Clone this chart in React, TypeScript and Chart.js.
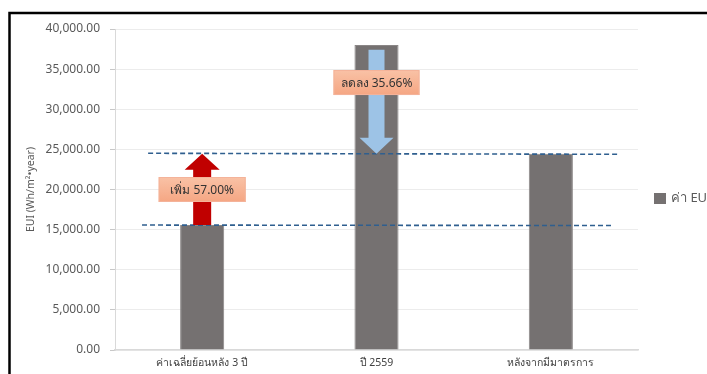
import React, { useEffect, useRef } from "react";
import { Chart, registerables } from "chart.js";

Chart.register(...registerables);

const categories = ["ค่าเฉลี่ยย้อนหลัง 3 ปี", "ปี 2559", "หลังจากมีมาตรการ"];
const euiValues = [15570, 38000, 24450];
const seriesName = "ค่า EUI";
const yTicks = [0, 5000, 10000, 15000, 20000, 25000, 30000, 35000, 40000];
const increaseLabel = "เพิ่ม 57.00%";
const decreaseLabel = "ลดลง 35.66%";
const yTitle = "EUI (Wh/m²•year)";

const FONT = "'Noto Sans', 'DejaVu Sans', sans-serif";
const BAR_COLOR = "#757171";

function drawArrow(
  ctx: CanvasRenderingContext2D,
  x: number,
  yTail: number,
  yTip: number,
  shaftW: number,
  headW: number,
  headH: number,
  color: string
) {
  const dir = yTip < yTail ? -1 : 1;
  const headBase = yTip - dir * headH;
  ctx.save();
  ctx.beginPath();
  ctx.moveTo(x - shaftW / 2, yTail);
  ctx.lineTo(x - shaftW / 2, headBase);
  ctx.lineTo(x - headW / 2, headBase);
  ctx.lineTo(x, yTip);
  ctx.lineTo(x + headW / 2, headBase);
  ctx.lineTo(x + shaftW / 2, headBase);
  ctx.lineTo(x + shaftW / 2, yTail);
  ctx.closePath();
  ctx.fillStyle = color;
  ctx.fill();
  ctx.restore();
}

function drawLabelBox(ctx: CanvasRenderingContext2D, cx: number, cy: number, w: number, h: number, text: string) {
  ctx.save();
  const g = ctx.createLinearGradient(0, cy - h / 2, 0, cy + h / 2);
  g.addColorStop(0, "#f9c2a6");
  g.addColorStop(1, "#f5a683");
  ctx.fillStyle = g;
  ctx.fillRect(cx - w / 2, cy - h / 2, w, h);
  ctx.strokeStyle = "#f4b39a";
  ctx.lineWidth = 1;
  ctx.strokeRect(cx - w / 2 + 0.5, cy - h / 2 + 0.5, w - 1, h - 1);
  ctx.fillStyle = "#333333";
  ctx.font = `12px ${FONT}`;
  ctx.textAlign = "center";
  ctx.textBaseline = "middle";
  ctx.fillText(text, cx, cy + 1);
  ctx.restore();
}

const overlayPlugin = {
  id: "overlay",
  beforeDraw(chart: any) {
    const ctx = chart.ctx as CanvasRenderingContext2D;
    ctx.save();
    ctx.fillStyle = "#ffffff";
    ctx.fillRect(0, 0, chart.width, chart.height);
    ctx.strokeStyle = "#000000";
    ctx.lineWidth = 2.5;
    ctx.beginPath();
    ctx.moveTo(9.5, chart.height);
    ctx.lineTo(9.5, 13);
    ctx.lineTo(chart.width, 13);
    ctx.stroke();
    ctx.restore();
  },
  afterDatasetsDraw(chart: any) {
    const ctx = chart.ctx as CanvasRenderingContext2D;
    const xs = chart.scales.x;
    const ys = chart.scales.y;
    const before = euiValues[0];
    const peak = euiValues[1];
    const after = euiValues[2];

    // dashed reference lines
    ctx.save();
    ctx.strokeStyle = "#2f5f8f";
    ctx.lineWidth = 1.6;
    ctx.setLineDash([5, 3]);
    ctx.beginPath();
    ctx.moveTo(xs.getPixelForValue(-0.31), ys.getPixelForValue(after) - 0.5);
    ctx.lineTo(xs.getPixelForValue(2.39), ys.getPixelForValue(after) + 0.5);
    ctx.moveTo(xs.getPixelForValue(-0.345), ys.getPixelForValue(before));
    ctx.lineTo(xs.getPixelForValue(2.345), ys.getPixelForValue(before) + 0.5);
    ctx.stroke();
    ctx.restore();

    // red increase arrow
    const x0 = xs.getPixelForValue(0);
    drawArrow(ctx, x0, ys.getPixelForValue(before), ys.getPixelForValue(after), 18, 35, 16, "#c00000");
    // blue decrease arrow
    const x1 = xs.getPixelForValue(1);
    drawArrow(ctx, x1, ys.getPixelForValue(peak - 600), ys.getPixelForValue(after), 16, 34, 16, "#9dc3e6");

    drawLabelBox(ctx, x0, ys.getPixelForValue(20000), 87, 25, increaseLabel);
    drawLabelBox(ctx, x1, ys.getPixelForValue(33330), 86, 25, decreaseLabel);

    // legend
    ctx.save();
    ctx.fillStyle = BAR_COLOR;
    ctx.fillRect(654, 193, 12, 11);
    ctx.fillStyle = "#595959";
    ctx.font = `13px ${FONT}`;
    ctx.textAlign = "left";
    ctx.textBaseline = "middle";
    ctx.fillText(seriesName, 671, 198);
    ctx.restore();
  },
};

export default function App() {
  const ref = useRef<HTMLCanvasElement | null>(null);
  useEffect(() => {
    if (!ref.current) return;
    Chart.defaults.font.family = FONT;
    const chart = new Chart(ref.current, {
      type: "bar",
      data: {
        labels: categories,
        datasets: [
          {
            label: seriesName,
            data: euiValues,
            backgroundColor: BAR_COLOR,
            borderColor: "#8a8686",
            borderWidth: 1,
            categoryPercentage: 1,
            barPercentage: 0.253,
          },
        ],
      },
      options: {
        animation: false,
        responsive: false,
        devicePixelRatio: 1,
        layout: { padding: { top: 29, right: 69, bottom: 0, left: 0 } },
        plugins: { legend: { display: false }, tooltip: { enabled: false } },
        scales: {
          x: {
            grid: { display: false, drawTicks: false },
            border: { display: true, color: "#d9d9d9", width: 1.5 },
            ticks: { color: "#404040", font: { size: 10.5 }, padding: 7, maxRotation: 0 },
            afterFit(scale: any) {
              scale.height = 24;
            },
          },
          y: {
            min: 0,
            max: 40000,
            afterBuildTicks(scale: any) {
              scale.ticks = yTicks.map((v) => ({ value: v }));
            },
            grid: { color: "#ececec", tickColor: "#c8c8c8", tickLength: 5 },
            border: { display: true, color: "#d9d9d9", width: 1 },
            ticks: {
              color: "#595959",
              font: { size: 12 },
              padding: 10,
              callback: (v: any) =>
                Number(v).toLocaleString("en-US", { minimumFractionDigits: 2, maximumFractionDigits: 2 }),
            },
            title: {
              display: true,
              text: yTitle,
              color: "#595959",
              font: { size: 10.5 },
              padding: { top: 25, bottom: 0 },
            },
            afterFit(scale: any) {
              scale.width = 115;
            },
          },
        },
      },
      plugins: [overlayPlugin],
    });
    return () => chart.destroy();
  }, []);
  return (
    <div style={{ position: "fixed", left: 0, top: 0, width: 707, height: 374 }}>
      <canvas ref={ref} width={707} height={374} style={{ width: 707, height: 374, display: "block" }} />
    </div>
  );
}
